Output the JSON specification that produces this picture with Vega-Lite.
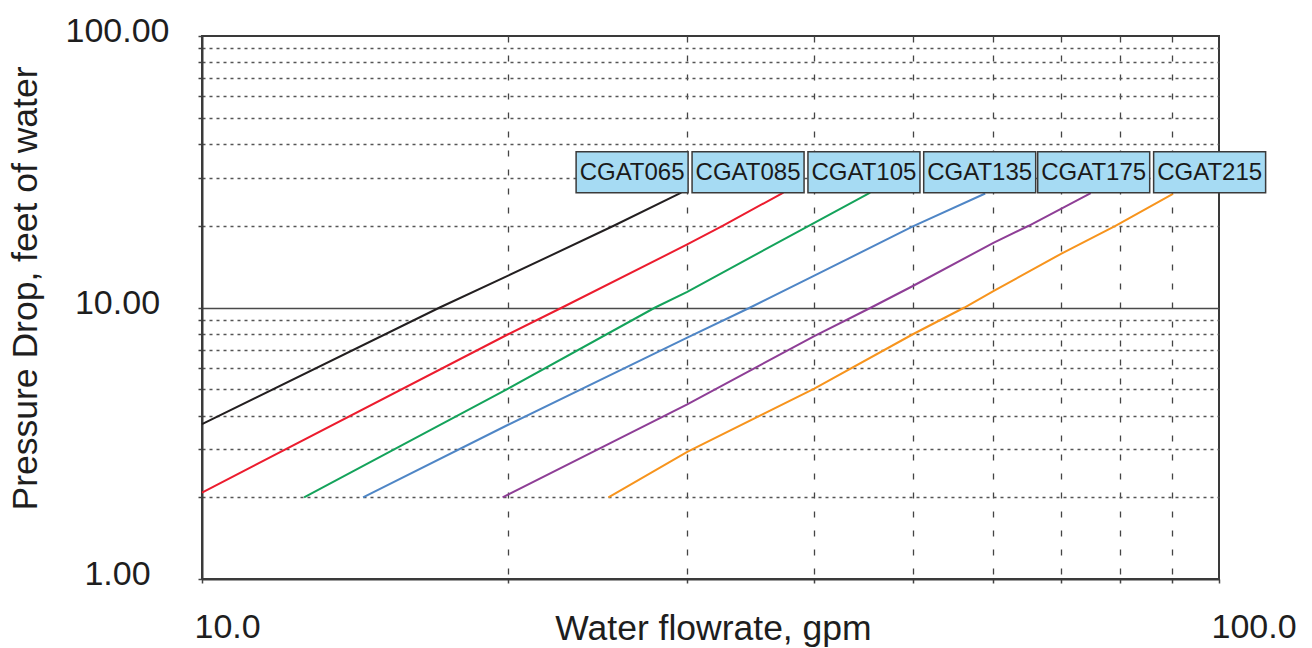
{
  "$schema": "https://vega.github.io/schema/vega-lite/v6.json",
  "width": 1017,
  "height": 543,
  "autosize": {"type": "none"},
  "padding": {"left": 202, "top": 36, "right": 93, "bottom": 69},
  "background": "white",
  "config": {
    "view": {"stroke": "#3a3a3a", "strokeWidth": 2},
    "font": "Liberation Sans"
  },
  "datasets": {
    "curves": [
      {"model": "CGAT065", "gpm": 10, "ft": 3.72},
      {"model": "CGAT065", "gpm": 17.13, "ft": 10},
      {"model": "CGAT065", "gpm": 20, "ft": 13.1},
      {"model": "CGAT065", "gpm": 25.4, "ft": 20},
      {"model": "CGAT065", "gpm": 29.6, "ft": 26.5},
      {"model": "CGAT085", "gpm": 10, "ft": 2.08},
      {"model": "CGAT085", "gpm": 20, "ft": 7.97},
      {"model": "CGAT085", "gpm": 22.6, "ft": 10},
      {"model": "CGAT085", "gpm": 30, "ft": 17.07},
      {"model": "CGAT085", "gpm": 32.5, "ft": 20},
      {"model": "CGAT085", "gpm": 37.3, "ft": 26.5},
      {"model": "CGAT105", "gpm": 12.6, "ft": 2},
      {"model": "CGAT105", "gpm": 20, "ft": 5.03},
      {"model": "CGAT105", "gpm": 27.9, "ft": 10},
      {"model": "CGAT105", "gpm": 30, "ft": 11.42},
      {"model": "CGAT105", "gpm": 39.5, "ft": 20},
      {"model": "CGAT105", "gpm": 45.4, "ft": 26.5},
      {"model": "CGAT135", "gpm": 14.4, "ft": 2},
      {"model": "CGAT135", "gpm": 20, "ft": 3.7},
      {"model": "CGAT135", "gpm": 30, "ft": 7.75},
      {"model": "CGAT135", "gpm": 34.6, "ft": 10},
      {"model": "CGAT135", "gpm": 40, "ft": 13.1},
      {"model": "CGAT135", "gpm": 50, "ft": 19.9},
      {"model": "CGAT135", "gpm": 58.9, "ft": 26.3},
      {"model": "CGAT175", "gpm": 19.75, "ft": 2},
      {"model": "CGAT175", "gpm": 30, "ft": 4.4},
      {"model": "CGAT175", "gpm": 40, "ft": 7.84},
      {"model": "CGAT175", "gpm": 45.5, "ft": 10},
      {"model": "CGAT175", "gpm": 50, "ft": 12.0},
      {"model": "CGAT175", "gpm": 60, "ft": 17.3},
      {"model": "CGAT175", "gpm": 65, "ft": 20},
      {"model": "CGAT175", "gpm": 74.8, "ft": 26.4},
      {"model": "CGAT215", "gpm": 25.1, "ft": 2},
      {"model": "CGAT215", "gpm": 30, "ft": 2.94},
      {"model": "CGAT215", "gpm": 40, "ft": 5.03},
      {"model": "CGAT215", "gpm": 50, "ft": 7.97},
      {"model": "CGAT215", "gpm": 56.2, "ft": 10},
      {"model": "CGAT215", "gpm": 60, "ft": 11.48},
      {"model": "CGAT215", "gpm": 70, "ft": 15.8},
      {"model": "CGAT215", "gpm": 79.1, "ft": 20},
      {"model": "CGAT215", "gpm": 90.1, "ft": 26.2}
    ],
    "labels": [
      {"model": "CGAT065", "gpm": 26.48, "ft": 31.5},
      {"model": "CGAT085", "gpm": 34.43, "ft": 31.5},
      {"model": "CGAT105", "gpm": 44.76, "ft": 31.5},
      {"model": "CGAT135", "gpm": 58.17, "ft": 31.5},
      {"model": "CGAT175", "gpm": 75.3, "ft": 31.5},
      {"model": "CGAT215", "gpm": 97.9, "ft": 31.5}
    ]
  },
  "layer": [
    {
      "data": {"name": "curves"},
      "mark": {"type": "line", "strokeWidth": 2},
      "encoding": {
        "x": {
          "field": "gpm",
          "type": "quantitative",
          "title": "Water flowrate, gpm",
          "scale": {"type": "log", "domain": [10, 100], "nice": false},
          "axis": {
            "values": [10, 20, 30, 40, 50, 60, 70, 80, 90, 100],
            "labelExpr": "datum.value == 10 || datum.value == 100 ? format(datum.value, '.1f') : ''",
            "labelFontSize": 34,
            "labelFont": "Liberation Sans",
            "labelColor": "#1e1e1e",
            "labelAlign": "left",
            "labelOffset": -8,
            "labelBaseline": "alphabetic",
            "labelPadding": 54,
            "labelFlush": false,
            "labelOverlap": false,
            "tickSize": 4,
            "tickColor": "#444444",
            "tickWidth": 1.5,
            "domainColor": "#3a3a3a",
            "domainWidth": 2,
            "grid": true,
            "gridColor": "#444444",
            "gridWidth": 1.3,
            "gridDash": {"condition": {"test": "datum.value == 10 || datum.value == 100", "value": []}, "value": [6, 13]},
            "gridOpacity": {"condition": {"test": "datum.value == 10 || datum.value == 100", "value": 0}, "value": 1},
            "titleFont": "Liberation Sans",
            "titleFontSize": 35.5,
            "titleFontWeight": "normal",
            "titleColor": "#1e1e1e",
            "titleBaseline": "alphabetic",
            "titleAlign": "center",
            "titleX": 511,
            "titleY": 60
          }
        },
        "y": {
          "field": "ft",
          "type": "quantitative",
          "title": "Pressure Drop, feet of water",
          "scale": {"type": "log", "domain": [1, 100], "nice": false},
          "axis": {
            "values": [1, 2, 3, 4, 5, 6, 7, 8, 9, 10, 20, 30, 40, 50, 60, 70, 80, 90, 100],
            "labelExpr": "datum.value == 1 || datum.value == 10 || datum.value == 100 ? format(datum.value, '.2f') : ''",
            "labelFontSize": 34,
            "labelFont": "Liberation Sans",
            "labelColor": "#1e1e1e",
            "labelAlign": "center",
            "labelBaseline": "alphabetic",
            "labelOffset": 5.5,
            "labelPadding": 81,
            "labelOverlap": false,
            "tickSize": 4,
            "tickColor": "#444444",
            "tickWidth": 1.5,
            "domainColor": "#3a3a3a",
            "domainWidth": 2,
            "grid": true,
            "gridColor": {"condition": {"test": "datum.value == 10", "value": "#4a4a4a"}, "value": "#555555"},
            "gridWidth": {"condition": {"test": "datum.value == 10", "value": 1.6}, "value": 1.3},
            "gridDash": {"condition": {"test": "datum.value == 10", "value": []}, "value": [3, 4]},
            "gridOpacity": {"condition": {"test": "datum.value == 1 || datum.value == 100", "value": 0}, "value": 1},
            "titleFont": "Liberation Sans",
            "titleFontSize": 35.5,
            "titleFontWeight": "normal",
            "titleColor": "#1e1e1e",
            "titleBaseline": "alphabetic",
            "titleAlign": "center",
            "titleAngle": -90,
            "titleX": -166,
            "titleY": 252
          }
        },
        "color": {
          "field": "model",
          "type": "nominal",
          "scale": {
            "domain": ["CGAT065", "CGAT085", "CGAT105", "CGAT135", "CGAT175", "CGAT215"],
            "range": ["#231f20", "#ec1c2e", "#14a35b", "#4f86c6", "#8e3e96", "#f7941d"]
          },
          "legend": null
        }
      }
    },
    {
      "data": {"name": "labels"},
      "mark": {"type": "rect", "fill": "#a6dbf3", "stroke": "#3a3a3a", "strokeWidth": 1.5, "xOffset": -56, "x2Offset": 56, "yOffset": -20.5, "y2Offset": 20.5},
      "encoding": {
        "x": {"field": "gpm", "type": "quantitative", "title": "Water flowrate, gpm"},
        "x2": {"field": "gpm"},
        "y": {"field": "ft", "type": "quantitative", "title": "Pressure Drop, feet of water"},
        "y2": {"field": "ft"}
      }
    },
    {
      "data": {"name": "labels"},
      "mark": {"type": "text", "font": "Liberation Sans", "fontSize": 24, "color": "#1a1a1a", "align": "center", "baseline": "middle", "dy": 1},
      "encoding": {
        "x": {"field": "gpm", "type": "quantitative", "title": "Water flowrate, gpm"},
        "y": {"field": "ft", "type": "quantitative", "title": "Pressure Drop, feet of water"},
        "text": {"field": "model"}
      }
    }
  ]
}
